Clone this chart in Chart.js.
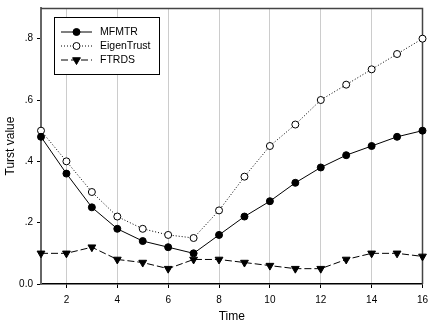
<!DOCTYPE html>
<html>
<head>
<meta charset="utf-8">
<script src="https://cdn.jsdelivr.net/npm/chart.js@4.4.0/dist/chart.umd.min.js"></script>
<style>
  html, body { margin: 0; padding: 0; background: #fff; }
</style>
</head>
<body>
<canvas id="canvas_line" width="428" height="326"></canvas>
<script>
// data
const time = [1, 2, 3, 4, 5, 6, 7, 8, 9, 10, 11, 12, 13, 14, 15, 16];
const mfmtr = [0.48, 0.36, 0.25, 0.18, 0.14, 0.12, 0.10, 0.16, 0.22, 0.27, 0.33, 0.38, 0.42, 0.45, 0.48, 0.50];
const eigenTrust = [0.50, 0.40, 0.30, 0.22, 0.18, 0.16, 0.15, 0.24, 0.35, 0.45, 0.52, 0.60, 0.65, 0.70, 0.75, 0.80];
const ftrds = [0.10, 0.10, 0.12, 0.08, 0.07, 0.05, 0.08, 0.08, 0.07, 0.06, 0.05, 0.05, 0.08, 0.10, 0.10, 0.09];
const xTicks = [2, 4, 6, 8, 10, 12, 14, 16];
const yTicks = [0, 0.2, 0.4, 0.6, 0.8];
const yTickLabels = ['0.0', '.2', '.4', '.6', '.8'];

const FONT = '"Liberation Sans", Arial, sans-serif';

function pts(arr) {
  return arr.map((v, i) => ({ x: time[i], y: v }));
}

// frame on top/right + legend box inside the plot
const framePlugin = {
  id: 'frame',
  beforeDatasetsDraw(chart) {
    const a = chart.chartArea;
    const ctx = chart.ctx;
    ctx.save();
    ctx.strokeStyle = '#444';
    ctx.lineWidth = 1.5;
    ctx.beginPath();
    ctx.moveTo(a.left, a.top + 0.5);
    ctx.lineTo(a.right, a.top + 0.5);
    ctx.lineTo(a.right, a.bottom);
    ctx.stroke();
    ctx.restore();
  },
  afterDraw(chart) {
    const ctx = chart.ctx;
    ctx.save();
    ctx.fillStyle = '#fff';
    ctx.fillRect(54, 17, 105, 57);
    ctx.strokeStyle = '#000';
    ctx.lineWidth = 1;
    ctx.strokeRect(54.5, 17.5, 105, 57);
    chart.data.datasets.forEach((ds, i) => {
      const y = 32 + i * 14;
      ctx.strokeStyle = ds.borderColor;
      ctx.lineWidth = ds.borderWidth;
      ctx.setLineDash(ds.borderDash || []);
      ctx.beginPath();
      ctx.moveTo(61, y);
      ctx.lineTo(92, y);
      ctx.stroke();
      ctx.setLineDash([]);
      ctx.fillStyle = ds.pointBackgroundColor;
      ctx.strokeStyle = ds.pointBorderColor;
      ctx.lineWidth = 1;
      Chart.helpers.drawPoint(ctx, {
        pointStyle: ds.pointStyle,
        rotation: ds.pointRotation || 0,
        radius: ds.pointRadius,
        borderWidth: 1
      }, 76.5, y);
      ctx.fillStyle = '#000';
      ctx.font = '10.5px ' + FONT;
      ctx.textBaseline = 'middle';
      ctx.fillText(ds.label, 100, y + 0.5);
    });
    ctx.restore();
  }
};

const config_line = {
  type: 'line',
  data: {
    datasets: [
      {
        label: 'MFMTR',
        data: pts(mfmtr),
        borderColor: '#000',
        borderWidth: 1,
        pointStyle: 'circle',
        pointRadius: 3.5,
        pointBackgroundColor: '#000',
        pointBorderColor: '#000',
        pointBorderWidth: 1
      },
      {
        label: 'EigenTrust',
        data: pts(eigenTrust),
        borderColor: '#000',
        borderWidth: 1,
        borderDash: [1, 2],
        pointStyle: 'circle',
        pointRadius: 3.5,
        pointBackgroundColor: '#fff',
        pointBorderColor: '#000',
        pointBorderWidth: 1
      },
      {
        label: 'FTRDS',
        data: pts(ftrds),
        borderColor: '#000',
        borderWidth: 1,
        borderDash: [7, 3],
        pointStyle: 'triangle',
        pointRotation: 180,
        pointRadius: 4.5,
        pointBackgroundColor: '#000',
        pointBorderColor: '#000',
        pointBorderWidth: 1
      }
    ]
  },
  options: {
    responsive: false,
    animation: false,
    clip: false,
    layout: { padding: { left: 0, right: 3, top: 8, bottom: 0 } },
    plugins: {
      legend: { display: false },
      tooltip: { enabled: false }
    },
    scales: {
      x: {
        type: 'linear',
        min: 1,
        max: 16,
        afterBuildTicks(scale) {
          scale.ticks = xTicks.map(v => ({ value: v }));
        },
        afterFit(scale) {
          scale.height = 42;
          scale.paddingLeft = 0;
          scale.paddingRight = 0;
        },
        grid: {
          color: ctx => (ctx.tick && ctx.tick.value === 16 ? 'rgba(0,0,0,0)' : '#cccccc'),
          lineWidth: 1,
          tickColor: '#000',
          tickLength: 4
        },
        border: { color: '#000', width: 1.5 },
        ticks: {
          color: '#000',
          font: { family: FONT, size: 10 },
          padding: 6,
          maxRotation: 0,
          autoSkip: false
        },
        title: {
          display: true,
          text: 'Time',
          color: '#000',
          font: { family: FONT, size: 12 },
          padding: { top: 0, bottom: 2 }
        }
      },
      y: {
        min: 0,
        max: 0.9,
        afterBuildTicks(scale) {
          scale.ticks = yTicks.map(v => ({ value: v }));
        },
        afterFit(scale) {
          scale.width = 41;
          scale.paddingTop = 0;
          scale.paddingBottom = 0;
        },
        grid: {
          drawOnChartArea: false,
          tickColor: '#000',
          tickLength: 4
        },
        border: { color: '#666', width: 2 },
        ticks: {
          color: '#000',
          font: { family: FONT, size: 10 },
          padding: 4,
          callback: (v, i) => yTickLabels[i]
        },
        title: {
          display: true,
          text: 'Turst value',
          color: '#000',
          font: { family: FONT, size: 12 },
          padding: { top: 3, bottom: 0 }
        }
      }
    }
  },
  plugins: [framePlugin]
};

const canvas_line = document.getElementById('canvas_line');
const chart_line = new Chart(canvas_line, config_line);
</script>
</body>
</html>
